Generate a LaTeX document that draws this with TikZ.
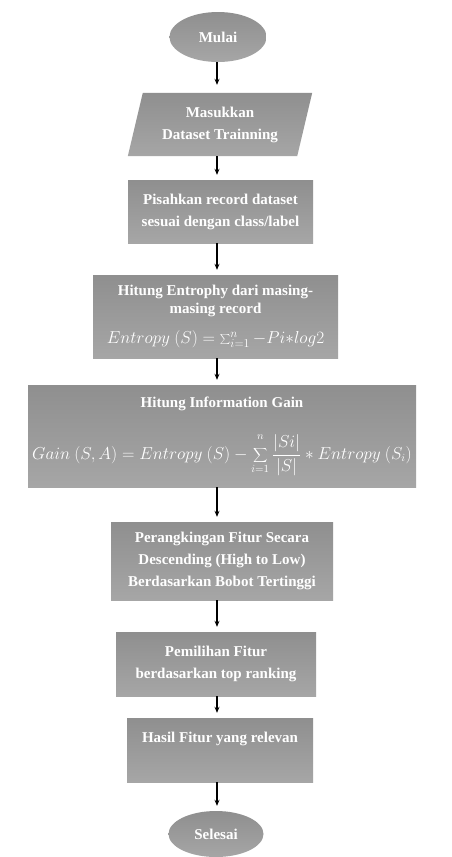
\documentclass[tikz,border=0pt]{standalone}
\usepackage{fontspec}
\setmainfont{Liberation Serif}
\usetikzlibrary{shapes.geometric,arrows.meta,calc,backgrounds}
\definecolor{gtop}{HTML}{8F8F8F}
\definecolor{gbot}{HTML}{A6A6A6}
\begin{document}
\begin{tikzpicture}[x=1pt,y=-1pt,
  txt/.style={text=white, font=\fontsize{15}{22}\selectfont\bfseries, align=center, inner sep=0pt},
  proc/.style={txt, rectangle, top color=gtop, bottom color=gbot, draw=none},
  term/.style={txt, ellipse, top color=gtop, bottom color=gbot, draw=none},
  arr/.style={-{Stealth[length=6pt,width=5pt]}, line width=1.1pt, black}]
\useasboundingbox (0,0) rectangle (452,857);
\begin{scope}[on background layer]
\fill[white] (0,0) rectangle (452,857);
\end{scope}
\coordinate (ax) at (217,0);

\node[term, minimum width=97, minimum height=50] (start) at (218,37) {Mulai};

\node[txt, rectangle, minimum width=184, minimum height=63] (input) at (220,124.5) {Masukkan\\Dataset Trainning};
\begin{scope}[on background layer]
\shade[top color=gtop, bottom color=gbot] ($(input.north west)+(15,0)$) -- (input.north east) -- ($(input.south east)+(-15,0)$) -- (input.south west) -- cycle;
\end{scope}

\node[proc, minimum width=185, minimum height=63] (split) at (220.5,211.5) {Pisahkan record dataset\\sesuai dengan class/label};

\node[proc, minimum width=245, minimum height=83, font=\fontsize{15}{18}\selectfont\bfseries] (ent) at (215.5,316.5) {Hitung Entrophy dari masing-\\masing record\\[12pt] {\fontsize{16.5}{20}\selectfont$\textstyle Entropy\ (S) = \sum_{i=1}^{n} - Pi{*}log2$}};

\node[proc, minimum width=388, minimum height=102] (gain) at (222,436) {Hitung Information Gain\\[22pt] {\fontsize{16}{20}\selectfont$\displaystyle Gain\ (S,A) = Entropy\ (S) - \sum_{\lower3pt\hbox{$\scriptstyle i=1$}}^{\raise6pt\hbox{$\scriptstyle n$}}\frac{|Si|}{|S|} * Entropy\ (S_i)$}};

\node[proc, minimum width=222, minimum height=78] (rank) at (222,561) {Perangkingan Fitur Secara\\Descending (High to Low)\\Berdasarkan Bobot Tertinggi};

\node[proc, minimum width=200, minimum height=64] (select) at (216,664) {Pemilihan Fitur\\berdasarkan top ranking};

\node[proc, minimum width=186, minimum height=64] (result) at (220,750) {Hasil Fitur yang relevan\\[4pt]};

\node[term, minimum width=95, minimum height=46] (end) at (216,834) {Selesai};

\draw[arr] (start.south -| ax) -- ($(input.north -| ax)+(0,-8)$);
\draw[arr] (input.south -| ax) -- ($(split.north -| ax)+(0,-5)$);
\draw[arr] (split.south -| ax) -- ($(ent.north -| ax)+(0,-5)$);
\draw[arr] (ent.south -| ax) -- ($(gain.north -| ax)+(0,-5)$);
\draw[arr] (gain.south -| ax) -- ($(rank.north -| ax)+(0,-5)$);
\draw[arr] (rank.south -| ax) -- ($(select.north -| ax)+(0,-5)$);
\draw[arr] (select.south -| ax) -- ($(result.north -| ax)+(0,-5)$);
\draw[arr] (result.south -| ax) -- ($(end.north -| ax)+(0,-5)$);
\end{tikzpicture}
\end{document}
